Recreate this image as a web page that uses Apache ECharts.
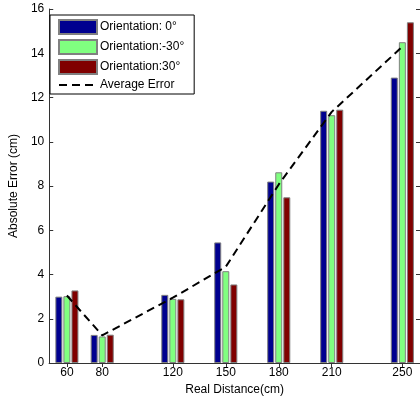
<!DOCTYPE html>
<html>
<head>
<meta charset="utf-8">
<script src="https://cdn.jsdelivr.net/npm/echarts@6/dist/echarts.min.js"></script>
<style>
  html, body { margin: 0; padding: 0; background: #fff; }
  #chart { width: 420px; height: 403px; }
</style>
</head>
<body>
<div id="chart"></div>
<script>
var distances = [60, 80, 120, 150, 180, 210, 250];
var err0 = [3.0, 1.27, 3.08, 5.45, 8.2, 11.4, 12.9];
var errMinus30 = [3.02, 1.2, 2.9, 4.15, 8.62, 11.2, 14.5];
var err30 = [3.28, 1.28, 2.88, 3.55, 7.49, 11.45, 15.4];
var avgErr = [3.05, 1.25, 2.95, 4.35, 8.07, 11.35, 14.3];
var yTicks = [0, 2, 4, 6, 8, 10, 12, 14, 16];

var colors = ['#00008f', '#80ff80', '#800000'];
var font = 'Liberation Sans, Arial, sans-serif';

function pairs(vals) {
    var out = [];
    for (var i = 0; i < distances.length; i++) {
        out.push([distances[i], vals[i]]);
    }
    return out;
}

function barSeries(name, vals, color) {
    return {
        name: name,
        type: 'bar',
        data: pairs(vals),
        barWidth: 7,
        barGap: '15%',
        itemStyle: { color: color, borderColor: '#808080', borderWidth: 1 },
        emphasis: { disabled: true }
    };
}

var myChart = echarts.init(document.getElementById('chart'));

var axisLineStyle = { color: '#333', width: 1 };

var option = {
    animation: false,
    textStyle: { fontFamily: font },
    grid: { left: 44, right: -2, top: 9, bottom: 40 },
    legend: {
        orient: 'vertical',
        left: 50,
        top: 15,
        padding: [4, 10, 3, 8],
        itemWidth: 38,
        itemHeight: 14,
        itemGap: 4,
        backgroundColor: '#fff',
        borderColor: '#000',
        borderWidth: 1,
        borderRadius: 0,
        textStyle: { fontSize: 12, color: '#000', fontFamily: font, padding: [0, 0, 0, -2] },
        data: [
            { name: 'Orientation: 0°', icon: 'rect' },
            { name: 'Orientation:-30°', icon: 'rect' },
            { name: 'Orientation:30°', icon: 'rect' },
            // hide the circle marker ECharts puts on line legend icons
            { name: 'Average Error', itemStyle: { color: 'rgba(0,0,0,0)', borderColor: 'rgba(0,0,0,0)', borderWidth: 0 } }
        ]
    },
    xAxis: [
        {
            type: 'value',
            min: 50,
            max: 260,
            name: 'Real Distance(cm)',
            nameLocation: 'middle',
            nameGap: 21,
            nameTextStyle: { fontSize: 12, color: '#000' },
            splitLine: { show: false },
            axisLine: { lineStyle: axisLineStyle },
            axisTick: { inside: true, length: 4, customValues: distances, lineStyle: axisLineStyle },
            axisLabel: { customValues: distances, fontSize: 12, color: '#000', margin: 4 }
        },
        {
            type: 'value',
            position: 'top',
            min: 50,
            max: 260,
            splitLine: { show: false },
            axisLine: { lineStyle: axisLineStyle },
            axisTick: { inside: true, length: 4, customValues: distances, lineStyle: axisLineStyle },
            axisLabel: { show: false }
        }
    ],
    yAxis: [
        {
            type: 'value',
            min: 0,
            max: 16,
            interval: 2,
            name: 'Absolute Error (cm)',
            nameLocation: 'middle',
            nameGap: 27,
            nameTextStyle: { fontSize: 12, color: '#000' },
            splitLine: { show: false },
            axisLine: { show: true, lineStyle: axisLineStyle },
            axisTick: { show: true, inside: true, length: 4, customValues: yTicks, lineStyle: axisLineStyle },
            axisLabel: { customValues: yTicks, fontSize: 12, color: '#000', margin: 5 }
        },
        {
            type: 'value',
            position: 'right',
            min: 0,
            max: 16,
            interval: 2,
            splitLine: { show: false },
            axisLine: { show: true, lineStyle: axisLineStyle },
            axisTick: { show: true, inside: true, length: 4, lineStyle: axisLineStyle },
            axisLabel: { show: false }
        }
    ],
    series: [
        barSeries('Orientation: 0°', err0, colors[0]),
        barSeries('Orientation:-30°', errMinus30, colors[1]),
        barSeries('Orientation:30°', err30, colors[2]),
        {
            name: 'Average Error',
            type: 'line',
            data: pairs(avgErr),
            symbol: 'none',
            z: 5,
            lineStyle: { color: '#000', width: 2, type: [8, 5] },
            itemStyle: { color: '#000' },
            emphasis: { disabled: true }
        }
    ]
};

myChart.setOption(option);
</script>
</body>
</html>
